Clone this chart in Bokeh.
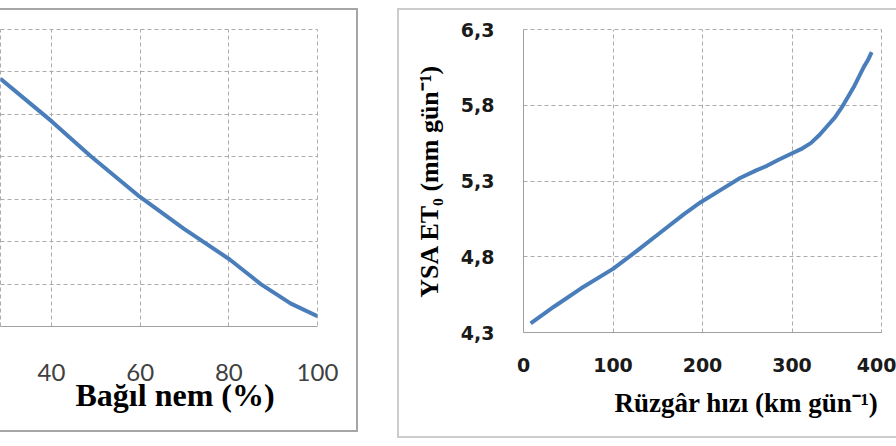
from bokeh.plotting import figure
from bokeh.layouts import row, column
from bokeh.models import Range1d, Spacer, CustomJSTickFormatter, Title
from bokeh.embed import file_html
from bokeh.resources import INLINE

# ---- Left panel (cropped): ET0 vs relative humidity ----
rh = [28.5, 40.0, 48.8, 59.9, 69.9, 80.2, 87.2, 94.0, 100.0]
et0_rh = [5.72, 5.22, 4.81, 4.33, 3.95, 3.59, 3.30, 3.07, 2.92]
rh_ticks = [20, 40, 60, 80, 100]
left_y_ticks = [2.8, 3.3, 3.8, 4.3, 4.8, 5.3, 5.8, 6.3]
left_xtitle = "Bağıl nem (%)"

# ---- Right panel: ET0 vs wind speed ----
wind = [8, 34, 64, 100, 127, 153, 179, 198, 220, 242, 260, 272, 285, 299, 310, 321, 330,
        339, 348, 356, 362, 369, 375, 380, 385, 389]
et0_wind = [4.36, 4.47, 4.59, 4.72, 4.84, 4.96, 5.08, 5.16, 5.24, 5.32, 5.37, 5.40, 5.44,
            5.48, 5.51, 5.55, 5.60, 5.66, 5.72, 5.79, 5.85, 5.92, 5.99, 6.05, 6.10, 6.15]
wind_ticks = [0, 100, 200, 300, 400]
right_y_ticks = [4.3, 4.8, 5.3, 5.8, 6.3]
right_xtitle = "Rüzgâr hızı (km gün⁻¹)"
right_ytitle = "YSA ET₀ (mm gün⁻¹)"

LINE = "#4A7EBB"
GRID = "#ababab"
AXIS = "#a0a0a0"


def style_grid(p):
    for g in (p.xgrid, p.ygrid):
        g.grid_line_color = GRID
        g.grid_line_dash = "4 3"
        g.grid_line_width = 1
    p.outline_line_color = GRID
    p.outline_line_dash = "4 3"
    p.outline_line_width = 1


def no_ticks(ax):
    ax.major_tick_out = 0
    ax.major_tick_in = 0
    ax.minor_tick_out = 0
    ax.minor_tick_in = 0


def make_title(text, size, offset, standoff):
    t = Title(text=text, align="left", offset=offset,
              text_font="Liberation Serif", text_font_style="bold",
              text_font_size=size, text_color="#000000")
    try:
        t.standoff = standoff
    except Exception:
        t.standoff = 0
    return t


# Left figure
p1 = figure(width=358, height=424, output_backend="svg", toolbar_location=None,
            x_range=Range1d(28.5, 100), y_range=Range1d(2.8, 6.3),
            min_border_left=0, min_border_right=41, min_border_top=17, min_border_bottom=99,
            border_fill_color=None,
            styles={"box-shadow": "inset 0 2px 0 0 #a6a6a6, inset -2px 0 0 0 #a6a6a6, inset 0 -2px 0 0 #a6a6a6"})
p1.line(rh, et0_rh, line_color=LINE, line_width=4)
p1.yaxis.visible = False
p1.yaxis.ticker = left_y_ticks
p1.xaxis.ticker = rh_ticks
p1.xaxis.axis_line_color = AXIS
no_ticks(p1.xaxis)
p1.xaxis.major_label_standoff = 37
p1.xaxis.major_label_text_font = "Lato"
p1.xaxis.major_label_text_font_size = "24px"
p1.xaxis.major_label_text_color = "#404040"
style_grid(p1)
p1.add_layout(make_title(left_xtitle, "32px", 75, -17), "below")

# Right figure
fmt = CustomJSTickFormatter(code="return tick.toFixed(1).replace('.', ',');")
p2 = figure(width=499, height=430, output_backend="svg", toolbar_location=None,
            x_range=Range1d(0, 400), y_range=Range1d(4.3, 6.3),
            min_border_left=126, min_border_right=15, min_border_top=21, min_border_bottom=106,
            border_fill_color=None,
            styles={"box-shadow": "inset 0 2px 0 0 #cccccc, inset 2px 0 0 0 #cccccc, inset 0 -2px 0 0 #cccccc"})
p2.line(wind, et0_wind, line_color=LINE, line_width=4)
p2.xaxis.ticker = wind_ticks
p2.yaxis.ticker = right_y_ticks
p2.yaxis.formatter = fmt
for ax in (p2.xaxis, p2.yaxis):
    ax.axis_line_color = AXIS
    no_ticks(ax)
    ax.major_label_text_font = "DejaVu Sans"
    ax.major_label_text_font_style = "bold"
    ax.major_label_text_font_size = "19px"
    ax.major_label_text_color = "#1a1a1a"
p2.xaxis.major_label_standoff = 25
p2.yaxis.major_label_standoff = 29
p2.yaxis.axis_label = right_ytitle
p2.yaxis.axis_label_text_font = "Liberation Serif"
p2.yaxis.axis_label_text_font_style = "bold"
p2.yaxis.axis_label_text_font_size = "26px"
p2.yaxis.axis_label_text_color = "#000000"
p2.yaxis.axis_label_standoff = 14
style_grid(p2)
p2.add_layout(make_title(right_xtitle, "27px", 91, 23), "below")

layout = column(Spacer(height=8, width=10),
                row(p1, Spacer(width=39, height=10), p2))
open("out.html", "w").write(file_html(layout, INLINE))
